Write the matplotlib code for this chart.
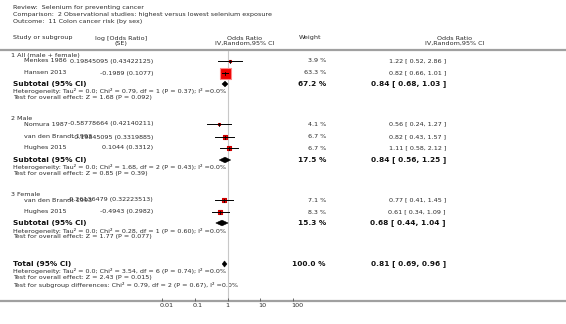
"""Forest plot: selenium and colon cancer risk (by sex)."""

import matplotlib.pyplot as plt
from matplotlib.patches import Polygon
from matplotlib.transforms import ScaledTranslation

plt.rcParams['font.family'] = 'DejaVu Sans'

# ---- data ----
header_lines = ['Review:  Selenium for preventing cancer',
                'Comparison:  2 Observational studies: highest versus lowest selenium exposure',
                'Outcome:  11 Colon cancer risk (by sex)']

groups = ['1 All (male + female)', '2 Male', '3 Female']
group_studies = [[0, 1], [2, 3, 4], [5, 6]]

study_names = ['Menkes 1986', 'Hansen 2013', 'Nomura 1987', 'van den Brandt 1993',
               'Hughes 2015', 'van den Brandt 1993', 'Hughes 2015']
log_or = ['0.19845095', '-0.1989', '-0.58778664', '-0.19845095', '0.1044',
          '-0.26136479', '-0.4943']
log_se = ['0.43422125', '0.1077', '0.42140211', '0.3319885', '0.3312',
          '0.32223513', '0.2982']
weights = [3.9, 63.3, 4.1, 6.7, 6.7, 7.1, 8.3]
or_est = [1.22, 0.82, 0.56, 0.82, 1.11, 0.77, 0.61]
or_lo = [0.52, 0.66, 0.24, 0.43, 0.58, 0.41, 0.34]
or_hi = [2.86, 1.01, 1.27, 1.57, 2.12, 1.45, 1.09]

sub_weight = [67.2, 17.5, 15.3]
sub_est = [0.84, 0.84, 0.68]
sub_lo = [0.68, 0.56, 0.44]
sub_hi = [1.03, 1.25, 1.04]
sub_het = ['Tau\u00b2 = 0.0; Chi\u00b2 = 0.79, df = 1 (P = 0.37); I\u00b2 =0.0%',
           'Tau\u00b2 = 0.0; Chi\u00b2 = 1.68, df = 2 (P = 0.43); I\u00b2 =0.0%',
           'Tau\u00b2 = 0.0; Chi\u00b2 = 0.28, df = 1 (P = 0.60); I\u00b2 =0.0%']
sub_z = ['Z = 1.68 (P = 0.092)', 'Z = 0.85 (P = 0.39)', 'Z = 1.77 (P = 0.077)']

total_weight = 100.0
total_est, total_lo, total_hi = 0.81, 0.69, 0.96
total_het = 'Tau\u00b2 = 0.0; Chi\u00b2 = 3.54, df = 6 (P = 0.74); I\u00b2 =0.0%'
total_z = 'Z = 2.43 (P = 0.015)'
subgroup_diff = 'Chi\u00b2 = 0.79, df = 2 (P = 0.67), I\u00b2 =0.0%'

ticks = [0.01, 0.1, 1, 10, 100]
tick_labels = ['0.01', '0.1', '1', '10', '100']

# ---- layout (pixel rows) ----
group_y = [55, 118, 194]
study_y = [61, 73, 124, 137, 148, 200, 212]
sub_y = [84, 160, 223]
total_y = 264

W, H = 566, 324
fig = plt.figure(figsize=(W / 100, H / 100), dpi=100)
bg = fig.add_axes([0, 0, 1, 1])
bg.set_xlim(0, W)
bg.set_ylim(H, 0)
bg.axis('off')

fs = 4.6
fsb = 5.3
grey = '#2a2a2a'
dark = '#111111'

for i, line in enumerate(header_lines):
    bg.text(13, 8 + i * 6.5, line, fontsize=fs, va='center', color=grey)

bg.text(13, 38, 'Study or subgroup', fontsize=fs, va='center', color=grey)
bg.text(121, 41, 'log [Odds Ratio]\n(SE)', fontsize=fs, va='center', ha='center',
        color=grey, linespacing=0.95)
bg.text(245, 41, 'Odds Ratio\nIV,Random,95% CI', fontsize=fs, va='center', ha='center',
        color=grey, linespacing=0.95)
bg.text(310, 38, 'Weight', fontsize=fs, va='center', ha='center', color=grey)
bg.text(455, 41, 'Odds Ratio\nIV,Random,95% CI', fontsize=fs, va='center', ha='center',
        color=grey, linespacing=0.95)

bg.plot([0, W], [50, 50], color='#a0a0a0', lw=1.6, solid_capstyle='butt')
bg.plot([0, W], [301, 301], color='#a0a0a0', lw=1.6, solid_capstyle='butt')

# forest axes: 0.01 .. 100 on log scale
x0, x1 = 162, 293
fa = fig.add_axes([x0 / W, (H - 301) / H, (x1 - x0) / W, (301 - 51) / H])
fa.set_xscale('log')
fa.set_xlim(0.01, 100)
fa.set_ylim(301, 51)
fa.patch.set_visible(False)
for s in fa.spines.values():
    s.set_visible(False)
fa.set_yticks([])
fa.set_xticks(ticks)
fa.set_xticklabels(tick_labels)
fa.minorticks_off()
fa.tick_params(axis='x', direction='in', length=2.5, width=0.6, color='#555555',
               labelsize=fs, labelcolor=grey, pad=1.5)
off = ScaledTranslation(-2 / 100, 0, fig.dpi_scale_trans)
for lab in fa.get_xticklabels():
    lab.set_ha('left')
    lab.set_transform(lab.get_transform() + off)
fa.axvline(1, color='#c8c8c8', lw=0.8, zorder=0)


def diamond(est, lo, hi, y, h=2.8):
    fa.add_patch(Polygon([(lo, y), (est, y - h), (hi, y), (est, y + h)],
                         closed=True, facecolor='black', edgecolor='black',
                         lw=0.4, zorder=3))


for g, name in enumerate(groups):
    bg.text(11, group_y[g], name, fontsize=fs, va='center', color=grey)
    for i in group_studies[g]:
        y = study_y[i]
        bg.text(24, y, study_names[i], fontsize=fs, va='center', color=grey)
        bg.text(153, y, f'{log_or[i]} ({log_se[i]})', fontsize=fs, va='center',
                ha='right', color=grey)
        bg.text(326, y, f'{weights[i]:.1f} %', fontsize=fs, va='center', ha='right',
                color=grey)
        bg.text(446, y, f'{or_est[i]:.2f} [ {or_lo[i]:.2f}, {or_hi[i]:.2f} ]',
                fontsize=fs, va='center', ha='right', color=grey)
        side = 11 * (weights[i] / 63.3) ** 0.5 * 0.72
        edge = '#ff8888' if weights[i] > 30 else '#cc0000'
        fa.scatter([or_est[i]], [y], marker='s', s=side ** 2, color='#ee0000',
                   edgecolors=edge, linewidths=0.8, zorder=2)
        fa.plot([or_lo[i], or_hi[i]], [y, y], color='black', lw=0.7, zorder=3)
        fa.plot([or_est[i], or_est[i]], [y - 1.5, y + 1.5], color='black', lw=0.6, zorder=3)

    y = sub_y[g]
    bg.text(13, y, 'Subtotal (95% CI)', fontsize=fsb, fontweight='bold', va='center',
            color=dark)
    bg.text(326, y, f'{sub_weight[g]:.1f} %', fontsize=fsb, fontweight='bold',
            va='center', ha='right', color=dark)
    bg.text(446, y, f'{sub_est[g]:.2f} [ {sub_lo[g]:.2f}, {sub_hi[g]:.2f} ]',
            fontsize=fsb, fontweight='bold', va='center', ha='right', color=dark)
    bg.text(13, y + 7.5, 'Heterogeneity: ' + sub_het[g], fontsize=fs, va='center',
            color=grey)
    bg.text(13, y + 13.5, 'Test for overall effect: ' + sub_z[g], fontsize=fs,
            va='center', color=grey)
    diamond(sub_est[g], sub_lo[g], sub_hi[g], y)

y = total_y
bg.text(13, y, 'Total (95% CI)', fontsize=fsb, fontweight='bold', va='center',
        color=dark)
bg.text(326, y, f'{total_weight:.1f} %', fontsize=fsb, fontweight='bold',
        va='center', ha='right', color=dark)
bg.text(446, y, f'{total_est:.2f} [ {total_lo:.2f}, {total_hi:.2f} ]',
        fontsize=fsb, fontweight='bold', va='center', ha='right', color=dark)
bg.text(13, y + 7, 'Heterogeneity: ' + total_het, fontsize=fs, va='center', color=grey)
bg.text(13, y + 13.5, 'Test for overall effect: ' + total_z, fontsize=fs, va='center',
        color=grey)
bg.text(13, y + 20.5, 'Test for subgroup differences: ' + subgroup_diff, fontsize=fs,
        va='center', color=grey)
diamond(total_est, total_lo, total_hi, y, h=3.0)

fig.savefig('out.png', dpi=100)
